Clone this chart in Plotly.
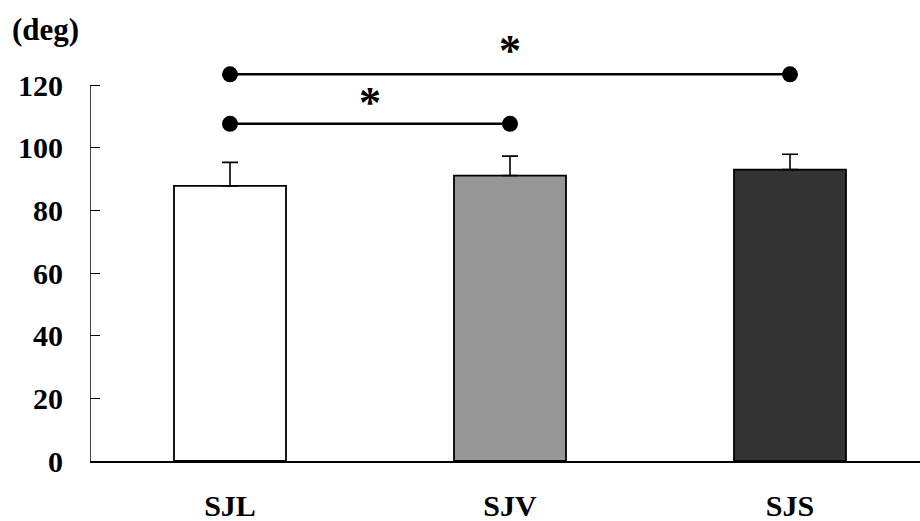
import plotly.graph_objects as go

categories = ["SJL", "SJV", "SJS"]
means = [87.8, 91.1, 93.0]
sd_upper = [7.5, 6.2, 4.9]
bar_colors = ["#ffffff", "#969696", "#333333"]
y_ticks = [0, 20, 40, 60, 80, 100, 120]

# significance brackets: (start category index, end category index, height, star height)
sig_start = [0, 0]
sig_end = [1, 2]
sig_level = [107.6, 123.4]
star_level = [114.5, 131.0]

font_family = "Liberation Serif, Times New Roman, serif"
x_idx = list(range(len(categories)))

# layout geometry (pixels)
W, H = 920, 521
L, R, T, B = 90, 0, 25, 60
plot_w = W - L - R
plot_h = H - T - B
px_per_unit = 376 / 120.0
y_top = plot_h / px_per_unit
x_lo = -0.5
x_hi = x_lo + plot_w / 280.0

fig = go.Figure()
fig.add_trace(go.Bar(
    x=x_idx, y=means, width=0.4,
    marker=dict(color=bar_colors, line=dict(color="black", width=1.8)),
    error_y=dict(type="data", symmetric=False, array=sd_upper,
                 arrayminus=[0] * len(means), color="black", thickness=1.6, width=8),
    showlegend=False,
))

for s, e, lvl, st in zip(sig_start, sig_end, sig_level, star_level):
    fig.add_trace(go.Scatter(
        x=[s, e], y=[lvl, lvl], mode="lines+markers",
        line=dict(color="black", width=2.5),
        marker=dict(color="black", size=16),
        cliponaxis=False, showlegend=False,
    ))
    fig.add_annotation(
        x=(s + e) / 2, y=st, xref="x", yref="y", text="<b>*</b>",
        showarrow=False, font=dict(family=font_family, size=44, color="black"),
        yanchor="middle",
    )

# y axis line only spanning the tick range
fig.add_shape(type="line", xref="x", yref="y", x0=x_lo, x1=x_lo,
              y0=0, y1=max(y_ticks), line=dict(color="black", width=1.5))

fig.add_annotation(
    xref="paper", yref="paper", x=(10 - L) / plot_w, y=(H - B - 30) / plot_h,
    text="<b>(deg)</b>", showarrow=False,
    font=dict(family=font_family, size=31, color="black"),
    xanchor="left", yanchor="middle",
)

fig.update_layout(
    width=W, height=H,
    margin=dict(l=L, r=R, t=T, b=B, autoexpand=False),
    paper_bgcolor="white", plot_bgcolor="white",
    font=dict(family=font_family, size=30, color="black"),
)

fig.update_xaxes(
    range=[x_lo, x_hi],
    tickvals=x_idx, ticktext=[f"<b>{c}</b>" for c in categories],
    showline=True, linecolor="black", linewidth=1.5,
    ticks="", showgrid=False, zeroline=False, automargin=False,
    ticklabelstandoff=17,
)
fig.update_yaxes(
    range=[0, y_top], tickvals=y_ticks, ticktext=[f"<b>{v}</b>" for v in y_ticks],
    showline=False,
    ticks="inside", ticklen=10, tickwidth=1.2, tickcolor="black",
    showgrid=False, zeroline=False, automargin=False, ticklabelstandoff=26,
)

fig.write_html("out.html", config={"displayModeBar": False},
               post_script="document.body.style.margin='0';")
